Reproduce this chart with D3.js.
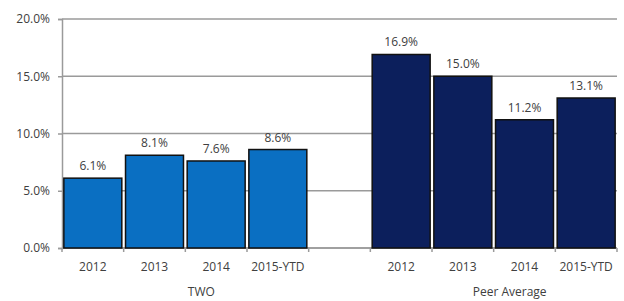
<!DOCTYPE html>
<html>
<head>
<meta charset="utf-8">
<script src="https://cdn.jsdelivr.net/npm/d3@7"></script>
<style>
body { margin: 0; background: #fff; }
text { font-family: "Open Sans", sans-serif; fill: #404040; }
</style>
</head>
<body>
<div id="chart"></div>
<script>
var years = ["2012", "2013", "2014", "2015-YTD"];
var groups = ["TWO", "Peer Average"];
var twoValues = [6.1, 8.1, 7.6, 8.6];
var peerValues = [16.9, 15.0, 11.2, 13.1];
var yTicks = [0, 5, 10, 15, 20];
var colors = ["#0a6fc2", "#0c1f5c"];

var width = 624, height = 301;
var margin = {top: 19, right: 7, bottom: 53, left: 62};
var w = width - margin.left - margin.right;
var h = height - margin.top - margin.bottom;

// one slot per bar plus an empty slot between the groups
var data = [];
twoValues.forEach(function(v, i) { data.push({key: "a" + i, year: years[i], value: v, group: 0}); });
data.push({key: "gap", year: "", value: null, group: -1});
peerValues.forEach(function(v, i) { data.push({key: "b" + i, year: years[i], value: v, group: 1}); });

var svg = d3.select("#chart")
	.append("svg")
	.attr("width", width)
	.attr("height", height)
	.append("g")
	.attr("transform", "translate(" + margin.left + "," + margin.top + ")");

var x = d3.scaleBand()
	.domain(data.map(function(d) { return d.key; }))
	.range([0, w])
	.paddingInner(0.06)
	.paddingOuter(0.03);

var y = d3.scaleLinear()
	.domain([0, 20])
	.range([h, 0]);

// gridlines
svg.selectAll(".grid")
	.data(yTicks)
	.enter()
	.append("line")
	.attr("x1", 0)
	.attr("x2", w)
	.attr("y1", function(d) { return y(d); })
	.attr("y2", function(d) { return y(d); })
	.attr("stroke", "#9a9a9a")
	.attr("stroke-width", 1.5);

// y axis
var yAxis = svg.append("g")
	.call(d3.axisLeft(y)
		.tickValues(yTicks)
		.tickSize(4)
		.tickFormat(function(d) { return d3.format(".1f")(d) + "%"; }));
yAxis.select(".domain").attr("stroke", "#9a9a9a").attr("stroke-width", 1.5);
yAxis.selectAll(".tick line").attr("stroke", "#9a9a9a").attr("stroke-width", 1.5);
yAxis.selectAll(".tick text")
	.attr("x", -12)
	.style("font-size", "12px")
	.style("font-family", "Open Sans, sans-serif")
	.attr("fill", "#404040");

// x axis line and slot boundary ticks
var step = x.step();
var start = x(data[0].key) - step * x.paddingInner() / 2;
var bounds = d3.range(data.length + 1).map(function(i) { return start + i * step; });
svg.append("line")
	.attr("x1", 0)
	.attr("x2", w)
	.attr("y1", h)
	.attr("y2", h)
	.attr("stroke", "#9a9a9a")
	.attr("stroke-width", 1.5);
svg.selectAll(".xtick")
	.data(bounds)
	.enter()
	.append("line")
	.attr("x1", function(d) { return d; })
	.attr("x2", function(d) { return d; })
	.attr("y1", h)
	.attr("y2", h + 4)
	.attr("stroke", "#9a9a9a")
	.attr("stroke-width", 1.5);

var bars = data.filter(function(d) { return d.value !== null; });

svg.selectAll(".bar")
	.data(bars)
	.enter()
	.append("rect")
	.attr("x", function(d) { return x(d.key); })
	.attr("y", function(d) { return y(d.value); })
	.attr("width", x.bandwidth())
	.attr("height", function(d) { return h - y(d.value); })
	.attr("fill", function(d) { return colors[d.group]; })
	.attr("stroke", "#111")
	.attr("stroke-width", 1.5);

svg.selectAll(".val")
	.data(bars)
	.enter()
	.append("text")
	.attr("x", function(d) { return x(d.key) + x.bandwidth() / 2; })
	.attr("y", function(d) { return y(d.value) - 8; })
	.attr("text-anchor", "middle")
	.style("font-size", "12px")
	.text(function(d) { return d3.format(".1f")(d.value) + "%"; });

svg.selectAll(".year")
	.data(bars)
	.enter()
	.append("text")
	.attr("x", function(d) { return x(d.key) + x.bandwidth() / 2; })
	.attr("y", h + 23)
	.attr("text-anchor", "middle")
	.style("font-size", "12px")
	.text(function(d) { return d.year; });

svg.selectAll(".group")
	.data(groups)
	.enter()
	.append("text")
	.attr("x", function(g, i) {
		var ks = bars.filter(function(d) { return d.group === i; });
		var x0 = x(ks[0].key), x1 = x(ks[ks.length - 1].key) + x.bandwidth();
		return (x0 + x1) / 2 + 16;
	})
	.attr("y", h + 48)
	.attr("text-anchor", "middle")
	.style("font-size", "12px")
	.text(function(d) { return d; });
</script>
</body>
</html>
